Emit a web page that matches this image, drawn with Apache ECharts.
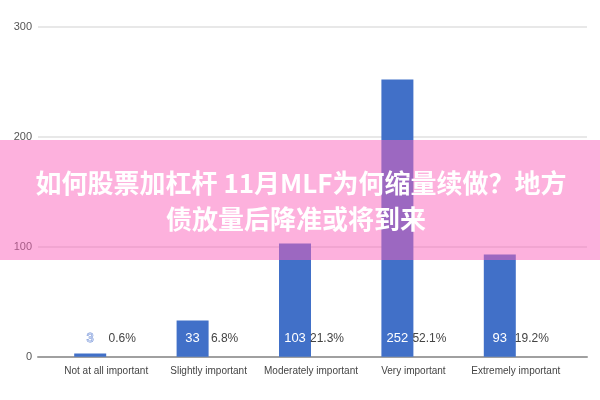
<!DOCTYPE html>
<html><head><meta charset="utf-8">
<script src="https://cdn.jsdelivr.net/npm/echarts@6/dist/echarts.min.js"></script>
<style>html,body{margin:0;padding:0;background:#fff}#c{width:600px;height:400px}</style>
</head><body><div id="c"></div>
<script>
const categories = ['Not at all important','Slightly important','Moderately important','Very important','Extremely important'];
const counts = [3, 33, 103, 252, 93];
const percents = ['0.6%','6.8%','21.3%','52.1%','19.2%'];
const yTicks = [0, 100, 200, 300];
const titleLines = ['如何股票加杠杆 11月MLF为何缩量续做？地方', '债放量后降准或将到来'];

const blue = '#4170c8';
const chart = echarts.init(document.getElementById('c'));
const countData = counts.map(v => v < 10
  ? {value: v, label: {color: '#c5d2f0', textBorderColor: '#6f8fd6', textBorderWidth: 0.8}}
  : v);
chart.setOption({
  animation: false,
  grid: [
    {left: 38, right: 13, top: 26.7, bottom: 43.3},
    {left: 55, right: 33, top: 26.7, bottom: 43.3}
  ],
  xAxis: [
    {gridIndex: 0, type: 'value', min: 0, max: 1, axisLabel: {show: false}, axisTick: {show: false},
     splitLine: {show: false}, axisLine: {show: true, lineStyle: {color: '#a0a0a0', width: 2}}},
    {gridIndex: 1, type: 'category', data: categories, axisLine: {show: false}, axisTick: {show: false},
     axisLabel: {interval: 0, color: '#444', fontSize: 10, fontFamily: 'Liberation Sans', margin: 10}}
  ],
  yAxis: [
    {gridIndex: 0, type: 'value', min: yTicks[0], max: yTicks[yTicks.length-1], interval: 100,
     axisLine: {show: false}, axisTick: {show: false},
     axisLabel: {color: '#555', fontSize: 11, fontFamily: 'Liberation Sans', margin: 6},
     splitLine: {lineStyle: {color: '#e8e8e8', width: 2}}},
    {gridIndex: 1, type: 'value', min: 0, max: 300, show: false}
  ],
  series: [
    {type: 'bar', xAxisIndex: 1, yAxisIndex: 1, data: countData, barWidth: 32, barGap: '0%',
     itemStyle: {color: blue},
     label: {show: true, position: 'insideBottom', distance: 12, color: '#fff', fontSize: 13, fontFamily: 'Liberation Sans'}},
    {type: 'bar', xAxisIndex: 1, yAxisIndex: 1, data: counts, barWidth: 32,
     itemStyle: {color: 'rgba(0,0,0,0)'},
     label: {show: true, position: 'insideBottom', distance: 12, color: '#444', fontSize: 12, fontFamily: 'Liberation Sans',
       formatter: p => percents[p.dataIndex]}}
  ],
  graphic: [
    {type: 'rect', z: 100, shape: {x: 0, y: 140, width: 600, height: 120},
     style: {fill: 'rgba(250,96,186,0.49)'}},
    {type: 'text', z: 101, x: 301, y: 183,
     style: {text: titleLines[0], fill: '#fff', font: 'bold 26px "Noto Sans CJK SC"', textAlign: 'center', textVerticalAlign: 'middle'}},
    {type: 'text', z: 101, x: 296, y: 219,
     style: {text: titleLines[1], fill: '#fff', font: 'bold 26px "Noto Sans CJK SC"', textAlign: 'center', textVerticalAlign: 'middle'}}
  ]
});
</script></body></html>
